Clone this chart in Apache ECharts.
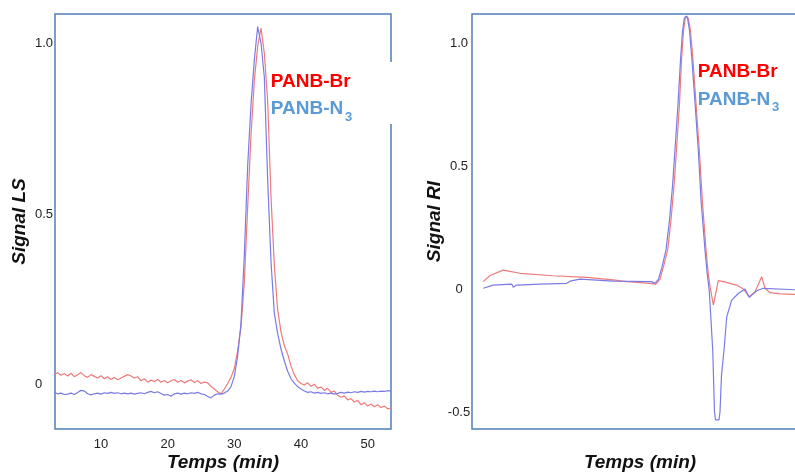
<!DOCTYPE html>
<html>
<head>
<meta charset="utf-8">
<script src="https://cdn.jsdelivr.net/npm/echarts@6/dist/echarts.min.js"></script>
<style>
html,body{margin:0;padding:0;background:#fff;}
#chart{width:795px;height:473px;}
</style>
</head>
<body>
<div id="chart"></div>
<script>
// ---- Left panel: Signal LS ----
const lsTime = [3.0,3.5,4.0,4.5,5.0,5.5,6.0,6.5,7.0,7.5,8.0,8.5,9.0,9.5,10.0,10.5,11.0,11.5,12.0,12.5,
  13.0,13.5,14.0,14.5,15.0,15.5,16.0,16.5,17.0,17.5,18.0,18.5,19.0,19.5,20.0,20.5,21.0,21.5,22.0,22.5,
  23.0,23.5,24.0,24.5,25.0,25.5,26.0,26.5,27.0,27.5,28.0,28.5,29.0,29.5,30.0,30.5,31.0,31.5,32.0,32.5,
  33.0,33.5,34.0,34.5,35.0,35.5,36.0,36.5,37.0,37.5,38.0,38.5,39.0,39.5,40.0,40.5,41.0,41.5,42.0,42.5,
  43.0,43.5,44.0,44.5,45.0,45.5,46.0,46.5,47.0,47.5,48.0,48.5,49.0,49.5,50.0,50.5,51.0,51.5,52.0,52.5,
  53.0,53.5];
const lsBr = [0.030,0.036,0.028,0.033,0.026,0.034,0.024,0.030,0.036,0.027,0.022,0.030,0.025,0.020,0.027,0.018,0.024,0.016,0.022,0.015,
  0.020,0.025,0.030,0.026,0.020,0.024,0.012,0.018,0.008,0.014,0.010,0.016,0.008,0.013,0.006,0.012,0.016,0.008,0.013,0.006,
  0.011,0.015,0.007,0.012,0.004,0.008,0.006,-0.004,-0.012,-0.020,-0.026,-0.012,0.004,0.022,0.048,0.10,0.17,0.30,0.52,0.73,
  0.89,0.99,1.044,0.97,0.83,0.55,0.35,0.22,0.155,0.115,0.09,0.055,0.03,0.012,0.004,0.0,0.006,-0.004,0.002,-0.010,
  -0.006,-0.016,-0.010,-0.022,-0.018,-0.030,-0.036,-0.032,-0.044,-0.040,-0.050,-0.045,-0.058,-0.052,-0.062,-0.056,-0.064,-0.058,-0.066,-0.062,
  -0.070,-0.068];
const lsN3 = [-0.022,-0.026,-0.024,-0.028,-0.027,-0.024,-0.028,-0.022,-0.016,-0.018,-0.026,-0.029,-0.026,-0.024,-0.027,-0.023,-0.025,-0.022,-0.025,-0.023,
  -0.026,-0.024,-0.026,-0.024,-0.027,-0.025,-0.023,-0.026,-0.022,-0.019,-0.023,-0.020,-0.025,-0.030,-0.028,-0.033,-0.026,-0.024,-0.027,-0.024,
  -0.026,-0.023,-0.025,-0.022,-0.026,-0.028,-0.034,-0.038,-0.030,-0.026,-0.027,-0.024,-0.018,-0.005,0.025,0.085,0.18,0.38,0.64,0.82,
  0.95,1.048,1.0,0.90,0.60,0.36,0.21,0.15,0.105,0.07,0.04,0.018,0.005,-0.005,-0.012,-0.018,-0.022,-0.020,-0.024,-0.022,
  -0.025,-0.023,-0.026,-0.024,-0.027,-0.025,-0.022,-0.024,-0.021,-0.023,-0.020,-0.022,-0.019,-0.021,-0.019,-0.020,-0.018,-0.020,-0.018,-0.019,
  -0.017,-0.018];
const lsXTicks = [10, 20, 30, 40, 50];
const lsYTicks = [0, 0.5, 1.0];

// ---- Right panel: Signal RI ----
const riTimeBr = [6.66,7.65,9.60,10.59,12.06,16.91,21.87,25.74,27.75,31.18,32.06,32.65,33.24,33.78,34.26,34.71,35.15,35.51,35.81,36.10,
  36.35,36.57,36.80,37.13,37.50,38.01,38.46,38.90,39.41,39.71,40.00,40.49,41.22,41.96,43.93,44.90,45.78,46.62,47.13,47.60,48.09,48.82,
  50.29,52.50,54.41];
const riBr = [0.030,0.055,0.077,0.072,0.064,0.054,0.047,0.037,0.030,0.023,0.020,0.040,0.10,0.16,0.28,0.42,0.60,0.75,0.93,1.05,
  1.10,1.11,1.10,1.05,0.93,0.728,0.55,0.35,0.159,0.07,0.011,-0.065,0.034,0.030,0.016,0.0,-0.031,-0.011,0.020,0.050,0.003,-0.015,
  -0.020,-0.022,-0.022];
const riTimeN3 = [6.66,8.13,10.84,11.07,11.57,15.00,18.93,19.41,20.88,25.78,31.43,31.91,32.43,32.94,33.53,34.04,34.49,34.93,35.29,35.66,
  35.96,36.22,36.47,36.70,36.99,37.35,37.87,38.31,38.68,39.26,39.56,39.90,40.40,40.66,40.81,41.32,41.47,41.69,42.06,42.46,43.19,44.16,
  45.15,45.78,46.87,47.84,52.50,54.41];
const riN3 = [0.003,0.016,0.020,0.007,0.016,0.020,0.023,0.032,0.040,0.032,0.030,0.023,0.040,0.09,0.159,0.28,0.42,0.60,0.75,0.93,
  1.05,1.10,1.11,1.10,1.05,0.93,0.728,0.55,0.36,0.159,0.07,-0.01,-0.248,-0.50,-0.532,-0.532,-0.50,-0.35,-0.248,-0.113,-0.045,-0.018,
  0.0,-0.034,-0.007,0.003,-0.003,-0.003];
const riYTicks = [-0.5, 0, 0.5, 1.0];

const seriesNames = ['PANB-Br', 'PANB-N'];

function zip(xs, ys) { return xs.map((x, i) => [x, ys[i]]); }
const fmt = v => (v === 0 ? '0' : v.toFixed(1));

const FONT = '"Liberation Sans", Arial, sans-serif';
const frameColor = '#4f7fb8';
const redLine = '#ee7b7b';
const blueLine = '#7b7be6';

const nameStyle = { fontSize: 19, fontWeight: 'bold', fontStyle: 'italic', color: '#111', fontFamily: FONT };
const labelStyle = { fontSize: 13, color: '#222', fontFamily: FONT };

const chart = echarts.init(document.getElementById('chart'), null, { renderer: 'canvas' });
chart.setOption({
  animation: false,
  backgroundColor: '#fff',
  grid: [
    { left: 55, top: 14, width: 336, height: 415, show: true, borderColor: frameColor, borderWidth: 1.5, backgroundColor: 'transparent', containLabel: false, outerBoundsMode: 'none' },
    { left: 472, top: 14, width: 336, height: 415, show: true, borderColor: frameColor, borderWidth: 1.5, backgroundColor: 'transparent', containLabel: false, outerBoundsMode: 'none' }
  ],
  xAxis: [
    { type: 'value', gridIndex: 0, min: 3.1, max: 53.5,
      axisLine: { show: false }, axisTick: { show: false }, splitLine: { show: false },
      axisLabel: Object.assign({ customValues: lsXTicks, margin: 9 }, labelStyle),
      name: 'Temps (min)', nameLocation: 'middle', nameGap: 24, nameMoveOverlap: false, nameTextStyle: nameStyle },
    { type: 'value', gridIndex: 1, min: 5, max: 54.41,
      axisLine: { show: false }, axisTick: { show: false }, splitLine: { show: false },
      axisLabel: { show: false },
      name: 'Temps (min)', nameLocation: 'middle', nameGap: 24, nameMoveOverlap: false, nameTextStyle: nameStyle }
  ],
  yAxis: [
    { type: 'value', gridIndex: 0, min: -0.129, max: 1.085,
      axisLine: { show: false }, axisTick: { show: false }, splitLine: { show: false },
      axisLabel: Object.assign({ customValues: lsYTicks, formatter: fmt, align: 'left', margin: 20 }, labelStyle),
      name: 'Signal LS', nameLocation: 'middle', nameGap: 26, nameMoveOverlap: false, nameRotate: 90, nameTextStyle: nameStyle },
    { type: 'value', gridIndex: 1, min: -0.569, max: 1.118,
      axisLine: { show: false }, axisTick: { show: false }, splitLine: { show: false },
      axisLabel: Object.assign({ customValues: riYTicks, formatter: fmt, align: 'center', margin: 13 }, labelStyle),
      name: 'Signal RI', nameLocation: 'middle', nameGap: 28, nameMoveOverlap: false, nameRotate: 90, nameTextStyle: nameStyle }
  ],
  series: [
    { name: seriesNames[0] + ' LS', type: 'line', xAxisIndex: 0, yAxisIndex: 0, data: zip(lsTime, lsBr),
      showSymbol: false, clip: true, lineStyle: { color: redLine, width: 1.2 } },
    { name: seriesNames[1] + '3 LS', type: 'line', xAxisIndex: 0, yAxisIndex: 0, data: zip(lsTime, lsN3),
      showSymbol: false, clip: true, lineStyle: { color: blueLine, width: 1.2 } },
    { name: seriesNames[0] + ' RI', type: 'line', xAxisIndex: 1, yAxisIndex: 1, data: zip(riTimeBr, riBr),
      showSymbol: false, clip: true, lineStyle: { color: redLine, width: 1.2 } },
    { name: seriesNames[1] + '3 RI', type: 'line', xAxisIndex: 1, yAxisIndex: 1, data: zip(riTimeN3, riN3),
      showSymbol: false, clip: true, lineStyle: { color: blueLine, width: 1.2 } }
  ],
  graphic: [
    { type: 'rect', shape: { x: 272, y: 62, width: 126, height: 62 }, style: { fill: '#fff' }, z: 50, silent: true },
    { type: 'text', x: 270.7, y: 82.2, z: 60, style: { text: seriesNames[0], fill: '#ff0000', font: 'bold 19px ' + FONT, verticalAlign: 'middle' } },
    { type: 'text', x: 270.7, y: 108.3, z: 60, style: { text: seriesNames[1], fill: '#5b9bd5', font: 'bold 19px ' + FONT, verticalAlign: 'middle' } },
    { type: 'text', x: 345, y: 117, z: 60, style: { text: '3', fill: '#5b9bd5', font: 'bold 13px ' + FONT, verticalAlign: 'middle' } },
    { type: 'text', x: 697.7, y: 72, z: 60, style: { text: seriesNames[0], fill: '#ff0000', font: 'bold 19px ' + FONT, verticalAlign: 'middle' } },
    { type: 'text', x: 697.7, y: 99.3, z: 60, style: { text: seriesNames[1], fill: '#5b9bd5', font: 'bold 19px ' + FONT, verticalAlign: 'middle' } },
    { type: 'text', x: 772, y: 107, z: 60, style: { text: '3', fill: '#5b9bd5', font: 'bold 13px ' + FONT, verticalAlign: 'middle' } }
  ]
});
</script>
</body>
</html>
